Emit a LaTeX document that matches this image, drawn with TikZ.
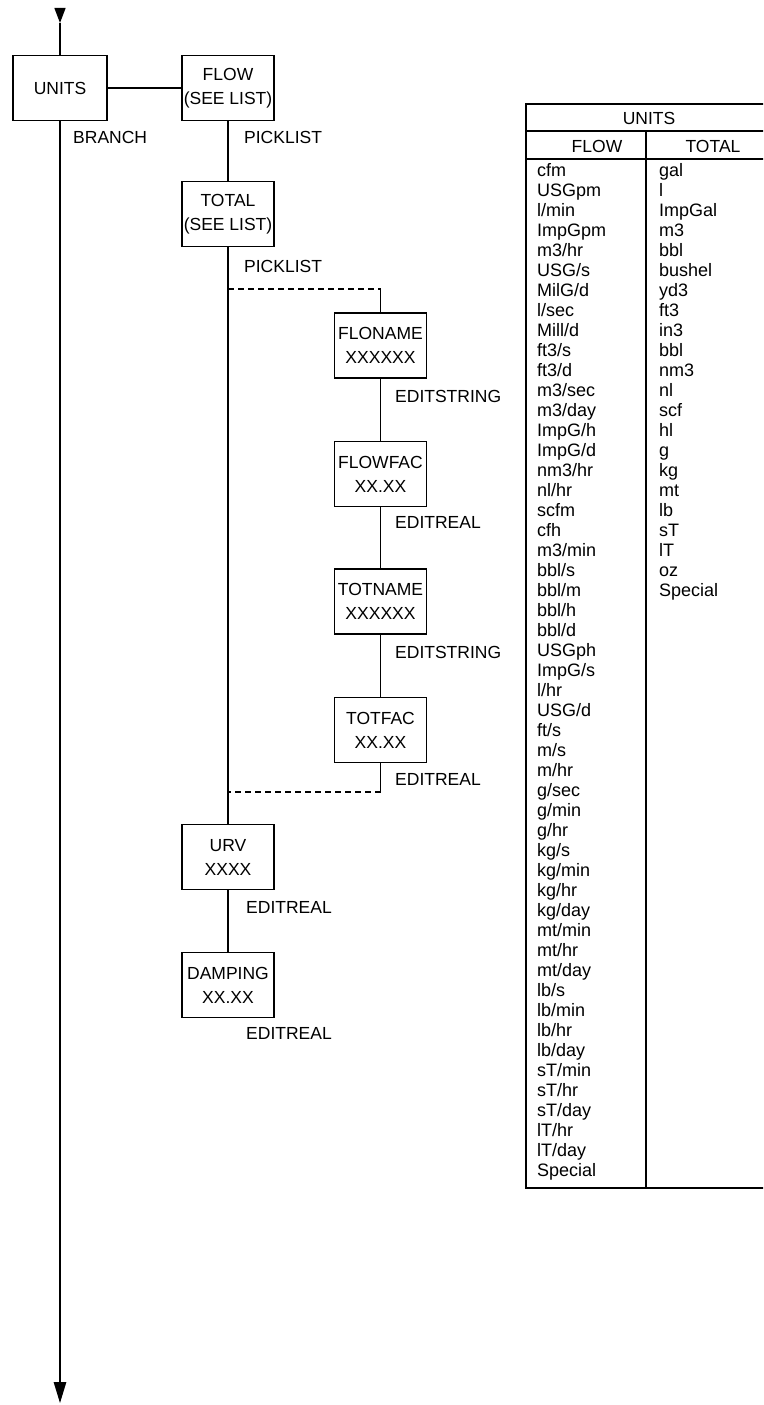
\documentclass[tikz,border=0pt]{standalone}
\usepackage{fontspec}
\setmainfont{Liberation Sans}
\usetikzlibrary{arrows.meta}
\begin{document}
\begin{tikzpicture}[x=1pt,y=-1pt,
  every node/.style={font=\fontsize{17.5}{24}\selectfont},
  menubox/.style={draw, line width=1.3pt, minimum width=92pt, minimum height=65pt,
                  align=center, inner sep=0pt},
  lbl/.style={anchor=base west, inner sep=0pt},
  link/.style={line width=1.3pt},
  optlink/.style={line width=1.3pt, dash pattern=on 6pt off 4pt},
  rule/.style={line width=1.3pt},
  cell/.style={anchor=base west, inner sep=0pt, font=\fontsize{18}{20}\selectfont},
  head/.style={anchor=base, inner sep=0pt, font=\fontsize{17.5}{20}\selectfont}]

\useasboundingbox (0,0) rectangle (763,1405);
\clip (0,0) rectangle (763,1405);

% menu boxes
\node[menubox, minimum width=94pt] (units) at (60,88) {UNITS};
\node[menubox] (flow)    at (228,88)    {FLOW\\(SEE LIST)};
\node[menubox] (total)   at (228,214)   {TOTAL\\(SEE LIST)};
\node[menubox] (floname) at (380.5,345.5) {FLONAME\\XXXXXX};
\node[menubox] (flowfac) at (380.5,474)   {FLOWFAC\\XX.XX};
\node[menubox] (totname) at (380.5,601.5) {TOTNAME\\XXXXXX};
\node[menubox] (totfac)  at (380.5,730)   {TOTFAC\\XX.XX};
\node[menubox] (urv)     at (228,857)   {URV\\XXXX};
\node[menubox] (damping) at (228,985)   {DAMPING\\XX.XX};

% edit type labels
\node[lbl] (lbranch)  at (73,143.5)  {BRANCH};
\node[lbl] (lpick1)   at (244,143.5) {PICKLIST};
\node[lbl] (lpick2)   at (244,272.5) {PICKLIST};
\node[lbl] (ledit1)   at (395,402.5) {EDITSTRING};
\node[lbl] (lreal1)   at (395,528.5) {EDITREAL};
\node[lbl] (ledit2)   at (395,658.5) {EDITSTRING};
\node[lbl] (lreal2)   at (395,785.5) {EDITREAL};
\node[lbl] (lreal3)   at (246,913.5) {EDITREAL};
\node[lbl] (lreal4)   at (246,1039.5) {EDITREAL};

% junction points
\coordinate (topEnd) at (60,8);
\coordinate (topTip) at (60,23);
\coordinate (botTip) at (60,1403);
\coordinate (optIn)  at (228,289);
\coordinate (optTop) at (380.5,289);
\coordinate (optBot) at (380.5,792);
\coordinate (optOut) at (228,792);

% main flow
\draw[link, -{Triangle[length=15pt,width=11pt]}] (topEnd) -- (topTip);
\draw[link] (topTip) -- (units.north);
\draw[link, -{Triangle[length=21pt,width=12.5pt]}] (units.south) -- (botTip);
\draw[link] (units.east) -- (flow.west);
\draw[link] (flow.south) -- (total.north);
\draw[link] (total.south) -- (urv.north);
\draw[link] (urv.south) -- (damping.north);

% optional branch
\draw[optlink] (optIn) -- (optTop);
\draw[link] (optTop) -- (floname.north);
\draw[link] (floname.south) -- (flowfac.north);
\draw[link] (flowfac.south) -- (totname.north);
\draw[link] (totname.south) -- (totfac.north);
\draw[link] (totfac.south) -- (optBot);
\draw[optlink] (optBot) -- (optOut);

% units table
\draw[rule] (526,104) rectangle (775,1188);
\draw[rule] (526,131) -- (775,131);
\draw[line width=2.6pt] (526,159) -- (775,159);
\draw[rule] (646,131) -- (646,1188);
\node[head] (hunits) at (649,124) {UNITS};
\node[head] (hflow)  at (597,152) {FLOW};
\node[head] (htotal) at (713,152) {TOTAL};

\foreach \u [count=\i from 0] in {cfm, USGpm, l/min, ImpGpm, m3/hr, USG/s, MilG/d, l/sec,
  Mill/d, ft3/s, ft3/d, m3/sec, m3/day, ImpG/h, ImpG/d, nm3/hr, nl/hr, scfm, cfh,
  m3/min, bbl/s, bbl/m, bbl/h, bbl/d, USGph, ImpG/s, l/hr, USG/d, ft/s, m/s, m/hr,
  g/sec, g/min, g/hr, kg/s, kg/min, kg/hr, kg/day, mt/min, mt/hr, mt/day, lb/s,
  lb/min, lb/hr, lb/day, sT/min, sT/hr, sT/day, lT/hr, lT/day, Special}
  \node[cell] (fu\i) at (537,{176+20*\i}) {\u};

\foreach \u [count=\i from 0] in {gal, l, ImpGal, m3, bbl, bushel, yd3, ft3, in3, bbl,
  nm3, nl, scf, hl, g, kg, mt, lb, sT, lT, oz, Special}
  \node[cell] (tu\i) at (659,{176+20*\i}) {\u};

\end{tikzpicture}
\end{document}
